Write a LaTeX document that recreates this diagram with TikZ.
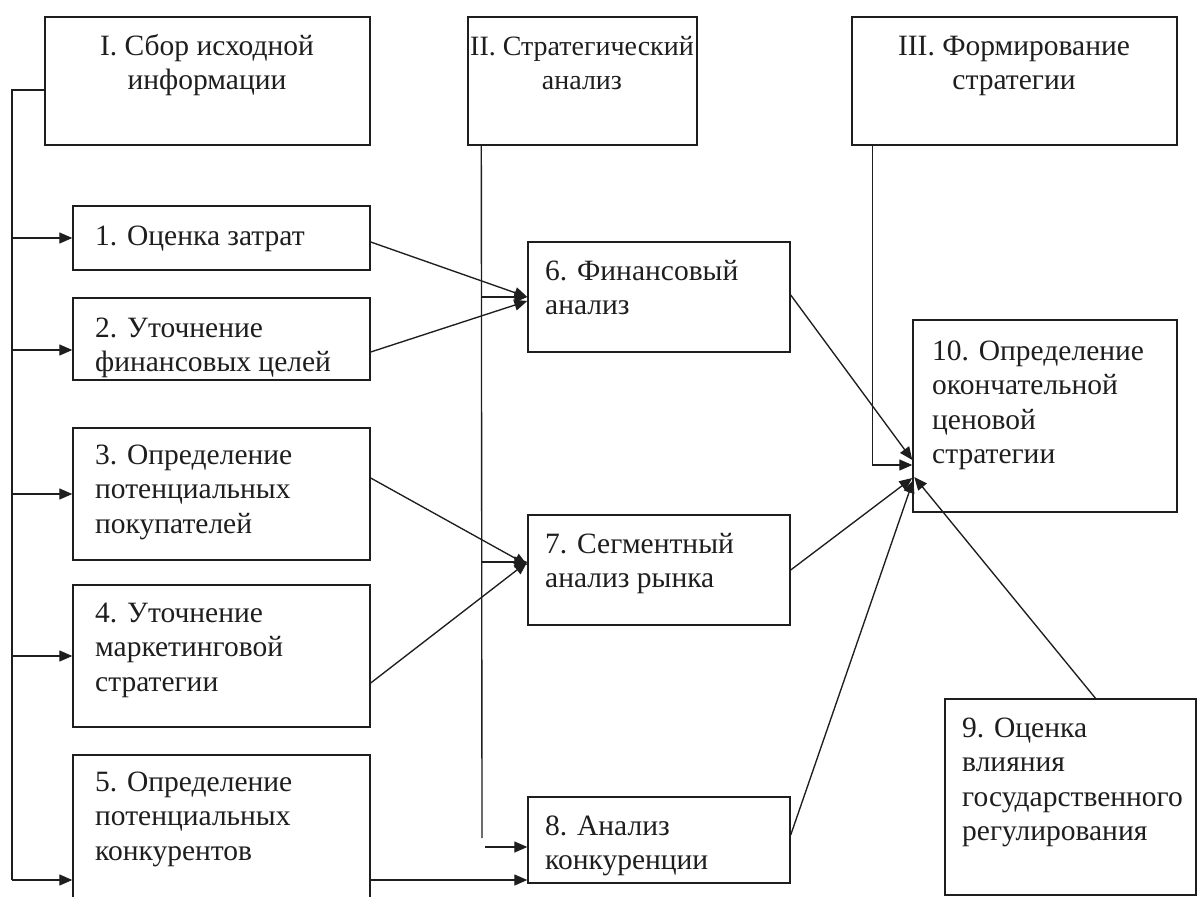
\documentclass[tikz,border=0pt]{standalone}
\usepackage{fontspec}
\setmainfont{Liberation Serif}
\usetikzlibrary{arrows.meta,fit,calc}
\definecolor{ink}{HTML}{1E1E1E}
\tikzset{
  box/.style={draw=ink, line width=1.4pt, rectangle, inner sep=0pt},
  txt/.style={inner sep=0pt, text=ink, font=\fontsize{29.5}{34.5}\selectfont},
  lt/.style={txt, anchor=north west, align=left},
  ct/.style={txt, anchor=north, align=center},
  ln/.style={draw=ink, line width=1.35pt},
  arr/.style={ln, -{Triangle[length=13pt,width=11pt]}}
}
\begin{document}
\begin{tikzpicture}[x=1pt,y=-1pt]
\useasboundingbox (0,0) rectangle (1197,897);
\clip (0,0) rectangle (1197,897);
\fill[white] (0,0) rectangle (1197,897);
% boxes
\node[box, fit={(45,17)(370,145)}] (bI) {};
\node[box, fit={(468,17)(697,145)}] (bII) {};
\node[box, fit={(852,17)(1177,145)}] (bIII) {};
\node[box, fit={(73,206)(370,270)}] (b1) {};
\node[box, fit={(73,298)(370,380)}] (b2) {};
\node[box, fit={(73,428)(370,560)}] (b3) {};
\node[box, fit={(73,585)(370,727)}] (b4) {};
\node[box, fit={(73,755)(370,905)}] (b5) {};
\node[box, fit={(528,242)(790,352)}] (b6) {};
\node[box, fit={(528,515)(790,625)}] (b7) {};
\node[box, fit={(528,797)(790,883)}] (b8) {};
\node[box, fit={(913,320)(1177,512)}] (b10) {};
\node[box, fit={(945,699)(1196,895)}] (b9) {};
% texts
\node[ct] (tI) at (207,31) {\strut I. Сбор исходной\\информации};
\node[ct, font=\fontsize{28}{34.5}\selectfont] (tII) at (582,31) {\strut II. Стратегический\\анализ};
\node[ct] (tIII) at (1014,31) {\strut III. Формирование\\стратегии};
\node[lt] (t1) at (95,221) {\strut 1. Оценка затрат};
\node[lt] (t2) at (95,313) {\strut 2. Уточнение\\финансовых целей};
\node[lt] (t3) at (95,440) {\strut 3. Определение\\потенциальных\\покупателей};
\node[lt] (t4) at (95,598) {\strut 4. Уточнение\\маркетинговой\\стратегии};
\node[lt] (t5) at (95,767) {\strut 5. Определение\\потенциальных\\конкурентов};
\node[lt] (t6) at (545,256) {\strut 6. Финансовый\\анализ};
\node[lt] (t7) at (545,529) {\strut 7. Сегментный\\анализ рынка};
\node[lt] (t8) at (545,811) {\strut 8. Анализ\\конкуренции};
\node[lt] (t10) at (932,336) {\strut 10. Определение\\окончательной\\ценовой\\стратегии};
\node[lt] (t9) at (962,713) {\strut 9. Оценка\\влияния\\государственного\\регулирования};
% anchor points
\coordinate (b2w) at ([yshift=-11pt]b2.west);
\coordinate (b5w) at ([yshift=-50pt]b5.west);
\coordinate (b7w) at ([yshift=8pt]b7.west);
\coordinate (b8w) at ([yshift=-7pt]b8.west);
% left bus
\coordinate (L) at (12,880);
\draw[ln] ([yshift=-9pt]bI.west) -| (L);
\draw[arr] (L |- b1.west) -- (b1.west);
\draw[arr] (L |- b2w) -- (b2w);
\draw[arr] (L |- b3.west) -- (b3.west);
\draw[arr] (L |- b4.west) -- (b4.west);
\draw[arr] (L) -- (b5w);
% middle bus
\coordinate (M) at ([xshift=14pt]bII.south west);
\coordinate (Mend) at (482,838);
\draw[ln] (M) -- (Mend);
\draw[arr] (M |- b6.west) -- (b6.west);
\draw[arr] (M |- b7w) -- (b7w);
\coordinate (M8) at (485,847);
\draw[arr] (M8) -- (b8w);
% column 1 -> column 2
\draw[arr] ([yshift=-4pt]b1.east) -- (b6.west);
\draw[arr] ([yshift=-13pt]b2.east) -- ([yshift=-4pt]b6.west);
\draw[arr] ([yshift=16pt]b3.east) -- ([yshift=5pt]b7.west);
\draw[arr] ([yshift=-27pt]b4.east) -- (b7w);
\draw[arr] ([yshift=-50pt]b5.east) -- ([yshift=-40pt]b8.west);
% III bus
\draw[arr] ([xshift=21pt]bIII.south west) |- ([yshift=-49pt]b10.west);
% into 10
\draw[arr] ([yshift=2pt]b6.east) -- ([yshift=-44pt]b10.west);
\draw[arr] (b7.east) -- ([yshift=-62pt]b10.west);
\draw[arr] ([yshift=5pt]b8.east) -- ([xshift=1pt,yshift=-64pt]b10.west);
\draw[arr] ([xshift=25pt]b9.north) -- ([xshift=2pt,yshift=-61pt]b10.west);
\end{tikzpicture}
\end{document}
